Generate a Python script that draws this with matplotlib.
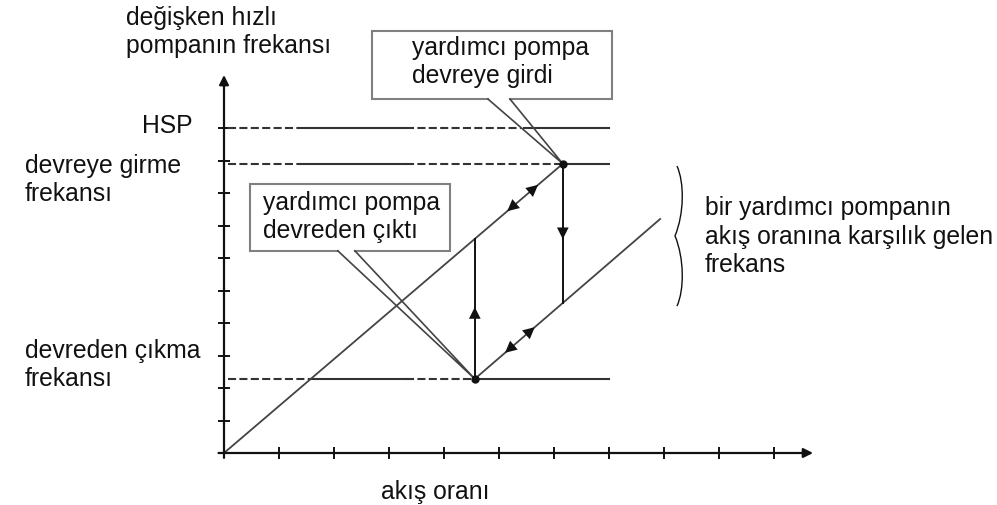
import matplotlib
matplotlib.use("Agg")
import matplotlib.pyplot as plt
from matplotlib.path import Path
from matplotlib.patches import PathPatch, Rectangle
import numpy as np

plt.rcParams["font.family"] = ["Liberation Sans", "DejaVu Sans"]
plt.rcParams["lines.scale_dashes"] = False

# ---- values (axis units: one tick = 1) ----
x_ticks = list(range(1, 11))
y_ticks = list(range(1, 11))
f_hsp = 10.0          # HSP level
f_on = 8.9            # switch-on frequency
f_off = 2.28          # switch-off frequency
q_on = 6.16           # flow where the auxiliary pump starts
q_off = 4.56          # flow where the auxiliary pump stops
q_line_end = 7.0      # end of the horizontal level lines
curve2_end = (7.93, 7.2)
x_axis_end = 10.71
y_axis_end = 11.63

INK = "#111111"
GREY = "#444444"
BOX = "#808080"
FS = 17.8

fig = plt.figure(figsize=(9.97, 5.06), dpi=100)
ax = fig.add_axes([0, 0, 1, 1])
ax.set_xlim(-224 / 55, (997 - 224) / 55)
ax.set_ylim(-(506 - 454) / 32.5, 454 / 32.5)
ax.axis("off")

# ---- axes with arrows ----
arrow_kw = dict(arrowstyle="-|>", lw=1.6, color=INK, mutation_scale=14,
                shrinkA=0, shrinkB=0)
ax.annotate("", xy=(x_axis_end, 0), xytext=(-0.1, 0), arrowprops=arrow_kw)
ax.annotate("", xy=(0, y_axis_end), xytext=(0, -0.15), arrowprops=arrow_kw)
for x in x_ticks:
    ax.plot([x, x], [-0.19, 0.19], color=INK, lw=1.4, solid_capstyle="butt")
for y in y_ticks:
    ax.plot([-0.11, 0.11], [y, y], color=INK, lw=1.4, solid_capstyle="butt")

# ---- horizontal level lines: dashed / solid pieces ----
levels = [f_hsp, f_on, f_off]
pieces = {
    f_hsp: [(0.07, 1.38, "--"), (1.38, 3.31, "-"), (3.31, 5.4, "--"), (5.45, q_line_end, "-")],
    f_on: [(0.07, 1.38, "--"), (1.38, 3.31, "-"), (3.31, q_on, "--"), (q_on, q_line_end, "-")],
    f_off: [(0.07, 1.6, "--"), (1.6, 3.31, "-"), (3.31, q_off, "--"), (q_off, q_line_end, "-")],
}
for lvl in levels:
    for x0, x1, style in pieces[lvl]:
        line, = ax.plot([x0, x1], [lvl, lvl], color="#333333", lw=1.5)
        if style == "--":
            line.set_dashes((5.8, 2.4))

# ---- operating curves ----
slope1 = f_on / q_on
slope2 = (curve2_end[1] - f_off) / (curve2_end[0] - q_off)
ax.plot([0, q_on], [0, f_on], color=GREY, lw=1.3)
ax.plot([q_off, curve2_end[0]], [f_off, curve2_end[1]], color=GREY, lw=1.3)

top_of_rise = slope1 * q_off
bottom_of_drop = f_off + slope2 * (q_on - q_off)
ax.plot([q_off, q_off], [f_off, top_of_rise], color=INK, lw=1.4)
ax.plot([q_on, q_on], [f_on, bottom_of_drop], color=INK, lw=1.4)

ax.plot([q_off, q_on], [f_off, f_on], "o", ms=5, color=INK, zorder=5)


def head(tip_x, tip_y, dx, dy):
    ax.annotate("", xy=(tip_x, tip_y), xytext=(tip_x - dx, tip_y - dy),
                arrowprops=dict(arrowstyle="-|>", lw=0.01, color=INK,
                                mutation_scale=21, shrinkA=0, shrinkB=0))


eps = 0.03
head(5.71, slope1 * 5.71, eps, eps * slope1)
head(5.15, slope1 * 5.15, -eps, -eps * slope1)
head(5.65, f_off + slope2 * (5.65 - q_off), eps, eps * slope2)
head(5.11, f_off + slope2 * (5.11 - q_off), -eps, -eps * slope2)
head(q_off, 4.49, 0, eps)
head(q_on, 6.58, 0, -eps)

# ---- callout boxes ----
def callout(x0, x1, y0, y1, gap0, gap1, target, lines, tx, tys):
    ax.plot([gap0, x0, x0, x1, x1, gap1], [y0, y0, y1, y1, y0, y0],
            color=BOX, lw=1.5, solid_joinstyle="miter")
    ax.add_patch(Rectangle((x0, y0), x1 - x0, y1 - y0, facecolor="white",
                           edgecolor="none", zorder=0))
    ax.plot([gap0, target[0], gap1], [y0, target[1], y0], color=GREY, lw=1.2)
    for s, ty in zip(lines, tys):
        ax.text(tx, ty, s, fontsize=FS, color=INK, va="baseline", ha="left")


callout(2.69, 7.05, 10.89, 12.98, 4.8, 5.2, (q_on, f_on),
        ["yardımcı pompa", "devreye girdi"], 3.42, [12.28, 11.42])
callout(0.47, 4.11, 6.22, 8.28, 2.07, 2.38, (q_off, f_off),
        ["yardımcı pompa", "devreden çıktı"], 0.71, [7.51, 6.65])

# ---- brace ----
b_end, b_body, b_cusp = 8.236, 8.37, 8.2
top, mid, bot = 8.83, 6.68, 4.52
verts = [
    (b_end, top),
    (b_body, top - 0.5), (b_body, mid + 0.7), (b_cusp, mid),
    (b_body, mid - 0.7), (b_body, bot + 0.5), (b_end, bot),
]
codes = [Path.MOVETO] + [Path.CURVE4] * 6
ax.add_patch(PathPatch(Path(verts, codes), facecolor="none", edgecolor=INK, lw=1.0))

# ---- labels ----
txt = dict(fontsize=FS, color=INK, va="baseline", ha="left")
ax.text(-1.78, 13.2, "değişken hızlı", **txt)
ax.text(-1.78, 12.34, "pompanın frekansı", **txt)
ax.text(-1.49, 9.88, "HSP", **txt)
ax.text(-3.62, 8.65, "devreye girme", **txt)
ax.text(-3.62, 7.78, "frekansı", **txt)
ax.text(-3.62, 2.95, "devreden çıkma", **txt)
ax.text(-3.62, 2.09, "frekansı", **txt)
ax.text(8.74, 7.35, "bir yardımcı pompanın", **txt)
ax.text(8.74, 6.46, "akış oranına karşılık gelen", **txt)
ax.text(8.74, 5.6, "frekans", **txt)
ax.text(2.85, -1.38, "akış oranı", **txt)

fig.savefig("out.png", dpi=100, facecolor="white")
